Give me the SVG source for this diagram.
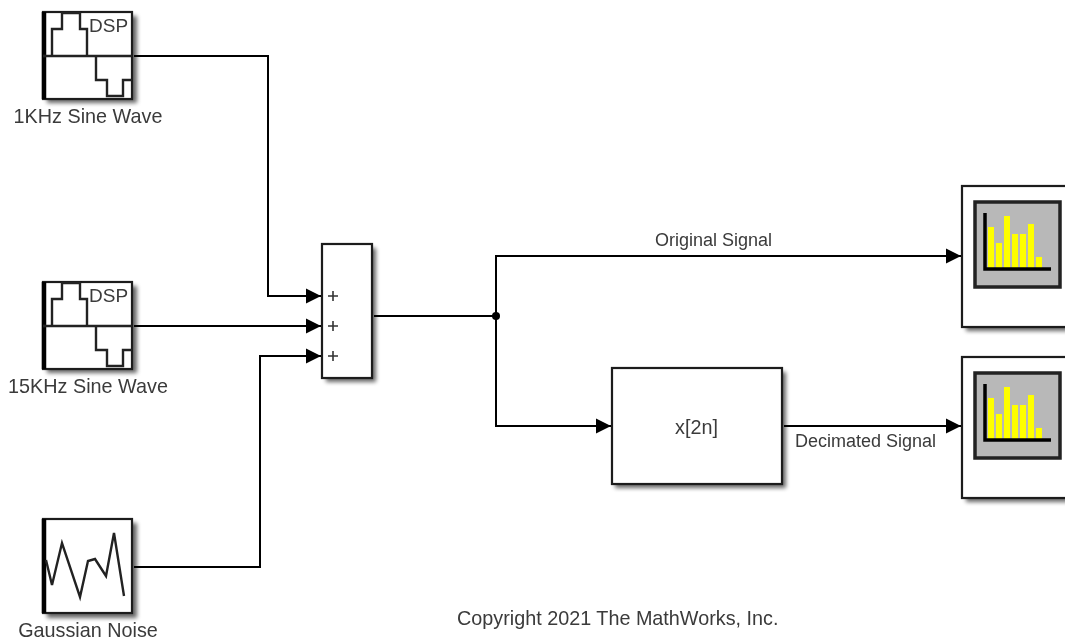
<svg xmlns="http://www.w3.org/2000/svg" xmlns:xlink="http://www.w3.org/1999/xlink" width="1065" height="641" viewBox="0 0 1065 641">
<style>
text{font-family:"Liberation Sans",Arial,sans-serif;font-size:19.8px;fill:#3a3a3a}
.l{font-size:18px}
.m{text-anchor:middle}
.b{fill:#fff;stroke:#1a1a1a;stroke-width:2.2}
.s{fill:#000;opacity:.6;filter:url(#blur)}
.w{fill:none;stroke:#222;stroke-width:2.4}
.c{fill:none;stroke:#000;stroke-width:2}
.e{fill:none;stroke:#000;stroke-width:4.5}
.bar{fill:#ffff00}
</style>
<defs>
<filter id="blur" x="-20%" y="-20%" width="140%" height="140%"><feGaussianBlur stdDeviation="2.2"/></filter>
<filter id="soft" filterUnits="userSpaceOnUse" x="0" y="0" width="1065" height="641"><feGaussianBlur stdDeviation="0.6"/></filter>
<marker id="a" markerUnits="userSpaceOnUse" markerWidth="15" markerHeight="16" refX="15" refY="8" orient="auto"><path d="M0 0.5L15 8L0 15.5Z" fill="#000"/></marker>
<g id="dsp">
<rect class="s" x="47" y="16" width="90" height="87"/>
<rect class="b" x="43" y="12" width="89" height="87"/>
<path class="e" d="M44 12V99"/>
<path d="M43 56H132" class="w"/>
<path class="w" d="M52 56V29H62V13H80V29H87V56M96 56V80H107V96H123V80H132"/>
<text x="89" y="32" style="font-size:19px">DSP</text>
</g>
<g id="scope">
<rect class="s" x="966" y="190" width="110" height="141"/>
<rect class="b" x="962" y="186" width="110" height="141"/>
<rect x="975" y="202" width="85" height="85" fill="#b8b8b8" stroke="#222" stroke-width="3.5"/>
<g class="bar">
<rect x="988" y="227" width="6" height="41"/><rect x="996" y="243" width="6" height="25"/><rect x="1004" y="216" width="6" height="52"/><rect x="1012" y="234" width="6" height="34"/><rect x="1020" y="234" width="6" height="34"/><rect x="1028" y="224" width="6" height="44"/><rect x="1036" y="257" width="6" height="11"/>
</g>
<path d="M985 213V269H1051" fill="none" stroke="#000" stroke-width="3.5"/>
</g>
</defs>
<rect width="1065" height="641" fill="#fff"/>
<g id="diagram" filter="url(#soft)">
<g id="connectors">
<path class="c" marker-end="url(#a)" d="M134 56H268V296H321"/>
<path class="c" marker-end="url(#a)" d="M134 326H321"/>
<path class="c" marker-end="url(#a)" d="M134 567H260V356H321"/>
<path class="c" marker-end="url(#a)" d="M374 316H496V256H961"/>
<path class="c" marker-end="url(#a)" d="M496 316V426H611"/>
<path class="c" marker-end="url(#a)" d="M784 426H961"/>
<circle cx="496" cy="316" r="4" fill="#000"/>
<text class="l" x="655" y="246">Original Signal</text>
<text class="l" x="795" y="447">Decimated Signal</text>
</g>
<g id="sine1"><use xlink:href="#dsp" href="#dsp"/><text class="m" x="88" y="123">1KHz Sine Wave</text></g>
<g id="sine15"><use xlink:href="#dsp" href="#dsp" y="270"/><text class="m" x="88" y="393">15KHz Sine Wave</text></g>
<g id="noise">
<rect class="s" x="47" y="523" width="90" height="95"/>
<rect class="b" x="43" y="519" width="89" height="94"/>
<path class="e" d="M44 519V613"/>
<path class="w" d="M46 560L52 585L62 543L80 597L88 561L95 559L106 576L114 533L124 596"/>
<text class="m" x="88" y="637">Gaussian Noise</text>
</g>
<g id="sum">
<rect class="s" x="326" y="248" width="50" height="134"/>
<rect class="b" x="322" y="244" width="50" height="134"/>
<path d="M328 296H338M333 291V301M328 326H338M333 321V331M328 356H338M333 351V361" stroke="#333" stroke-width="1.6" fill="none"/>
</g>
<g id="decimate">
<rect class="s" x="615" y="372" width="171" height="116"/>
<rect class="b" x="612" y="368" width="170" height="116"/>
<text class="m" x="696.5" y="434">x[2n]</text>
</g>
<g id="scope1"><use xlink:href="#scope" href="#scope"/></g>
<g id="scope2"><use xlink:href="#scope" href="#scope" y="171"/></g>
<text id="copyright" x="457" y="625">Copyright 2021 The MathWorks, Inc.</text>
</g>
</svg>
